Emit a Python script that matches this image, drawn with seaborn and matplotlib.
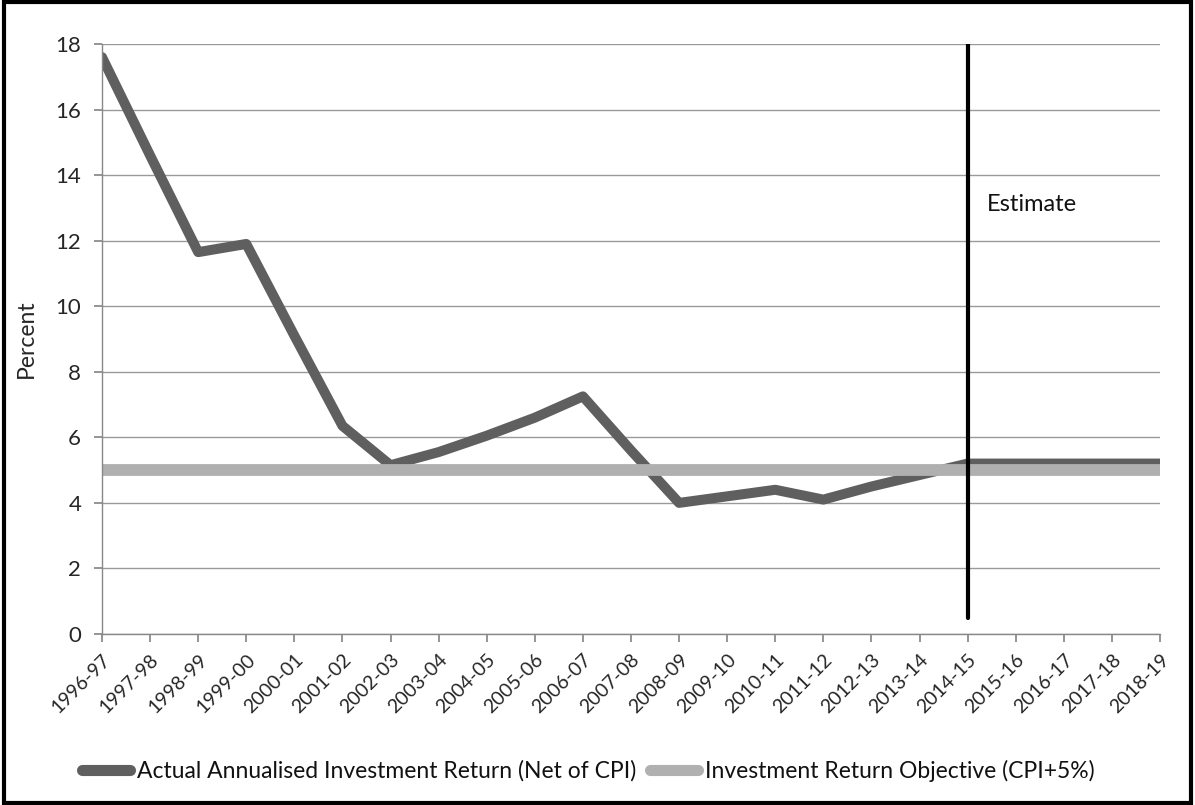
import matplotlib
matplotlib.use("Agg")
import matplotlib.pyplot as plt
import seaborn as sns
import pandas as pd
from matplotlib.patches import Rectangle

years = ["1996-97", "1997-98", "1998-99", "1999-00", "2000-01", "2001-02",
         "2002-03", "2003-04", "2004-05", "2005-06", "2006-07", "2007-08",
         "2008-09", "2009-10", "2010-11", "2011-12", "2012-13", "2013-14",
         "2014-15", "2015-16", "2016-17", "2017-18", "2018-19"]
actual_return = [17.6, 14.6, 11.65, 11.9, 9.1, 6.35, 5.15, 5.55, 6.05, 6.6,
                 7.25, 5.6, 4.0, 4.2, 4.4, 4.1, 4.5, 4.85, 5.2, 5.2, 5.2, 5.2, 5.2]
objective = [5.0] * len(years)
estimate_year = "2014-15"
estimate_line = [0.5, 18.0]

label_actual = "Actual Annualised Investment Return (Net of CPI)"
label_objective = "Investment Return Objective (CPI+5%)"

sns.set_theme(style="white")
plt.rcParams["font.family"] = ["Lato", "DejaVu Sans"]
plt.rcParams["text.color"] = "#111111"

df = pd.DataFrame({"year": years, label_actual: actual_return,
                   label_objective: objective})

fig = plt.figure(figsize=(11.95, 8.05), dpi=100)
ax = fig.add_axes([102 / 1195, 1 - 634 / 805, (1160 - 102) / 1195, (634 - 44) / 805])

sns.lineplot(data=df, x="year", y=label_actual, ax=ax, color="#5f5f5f",
             linewidth=7.2, sort=False, label=label_actual)
sns.lineplot(data=df, x="year", y=label_objective, ax=ax, color="#b0b0b0",
             linewidth=8.5, sort=False, label=label_objective)

# vertical marker separating actual figures from estimates
ex = years.index(estimate_year)
ax.plot([ex, ex], estimate_line, color="black", linewidth=3, zorder=5)
ax.text(ex + 0.4, 13.1, "Estimate", fontsize=17, va="center", ha="left")

ax.set_xlim(0, len(years) - 1)
ax.set_ylim(0, 18)
ax.set_yticks(range(0, 19, 2))
ax.set_xticks(range(len(years)))
ax.set_xticklabels(years, rotation=45, ha="right", va="top",
                   rotation_mode="anchor", fontsize=14)
ax.tick_params(axis="y", labelsize=16, length=6, color="#888888",
               direction="out", left=True, pad=9)
ax.tick_params(axis="x", length=6, color="#888888", direction="out",
               bottom=True, pad=6)
ax.yaxis.grid(True, color="#9a9a9a", linewidth=1)
ax.xaxis.grid(False)
ax.set_axisbelow(True)
for side in ["top", "right"]:
    ax.spines[side].set_visible(False)
for side in ["left", "bottom"]:
    ax.spines[side].set_color("#888888")
    ax.spines[side].set_linewidth(1)
ax.set_xlabel("")
ax.set_ylabel("Percent", fontsize=16.5)
ax.yaxis.set_label_coords(-0.062, 0.5)

ax.legend_.remove()
handles, labels = ax.get_legend_handles_labels()
leg = fig.legend(handles, labels, loc="center",
                 bbox_to_anchor=(0.492, 1 - 771 / 805), ncol=2, frameon=False,
                 fontsize=16.5, handlelength=2.1, handletextpad=0.3,
                 columnspacing=0.6)
for h in leg.get_lines():
    h.set_linewidth(8)
    h.set_solid_capstyle("round")

fig.patches.append(Rectangle((0.003, 0.003), 0.994, 0.994,
                             transform=fig.transFigure, fill=False,
                             edgecolor="black", linewidth=3))

fig.savefig("out.png", dpi=100)
